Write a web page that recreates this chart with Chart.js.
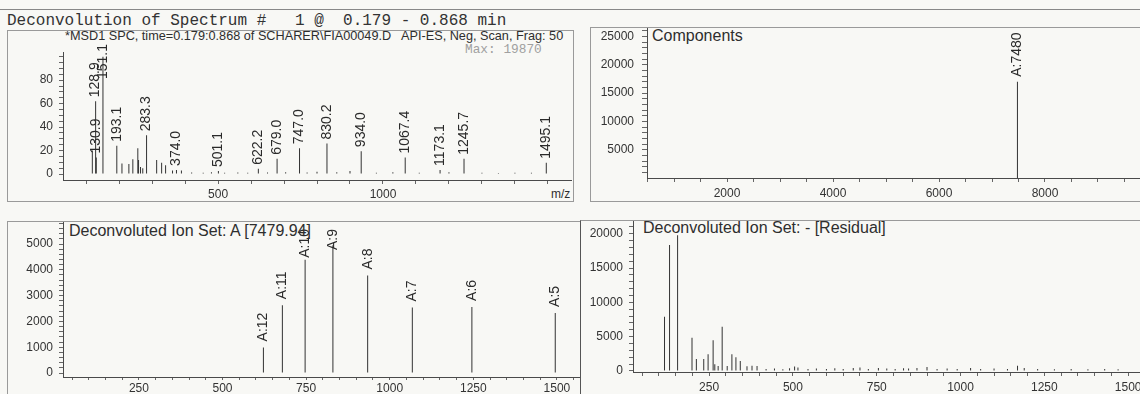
<!DOCTYPE html>
<html>
<head>
<meta charset="utf-8">
<title>Deconvolution of Spectrum</title>
<script src="https://cdn.jsdelivr.net/npm/chart.js@4.4.1/dist/chart.umd.min.js"></script>
<style>
html, body { margin: 0; padding: 0; }
body { width: 1140px; height: 394px; position: relative; overflow: hidden; background: #f8f8f5;
       font-family: "Liberation Sans", Arial, sans-serif; color: #2e2e2e; }
.box { position: absolute; border: 1px solid #9a9a9a; box-sizing: border-box; }
.txt { position: absolute; white-space: pre; }
.mono { font-family: "Liberation Mono", "Courier New", monospace; }
canvas { position: absolute; }
</style>
</head>
<body>
<div class="box" style="left:0;top:9px;width:1140px;height:1px;border-width:1px 0 0 0;border-color:#888"></div>
<div class="txt mono" style="left:7px;top:13px;font-size:16px;line-height:16px;color:#333">Deconvolution of Spectrum #   1 @  0.179 - 0.868 min</div>

<div class="box" style="left:7px;top:30px;width:567px;height:172px"></div>
<div class="box" style="left:590px;top:27px;width:600px;height:175px"></div>
<div class="box" style="left:7px;top:221px;width:574px;height:200px"></div>
<div class="box" style="left:580px;top:220px;width:600px;height:200px;border-left-color:#555"></div>

<div class="txt" style="left:65px;top:30px;font-size:12.7px;line-height:13px">*MSD1 SPC, time=0.179:0.868 of SCHARER\FIA00049.D   API-ES, Neg, Scan, Frag: 50</div>
<div class="txt mono" style="left:465px;top:44px;font-size:12.8px;line-height:12.8px;color:#a0a0a0">Max: 19870</div>
<div class="txt" style="left:551px;top:188px;font-size:12px;line-height:12px">m/z</div>
<div class="txt" style="left:652px;top:28px;font-size:16px;line-height:16px">Components</div>
<div class="txt" style="left:69px;top:223px;font-size:16px;line-height:16px">Deconvoluted Ion Set: A [7479.94]</div>
<div class="txt" style="left:643px;top:220px;font-size:16px;line-height:16px">Deconvoluted Ion Set: - [Residual]</div>

<script>
// top left: spectrum, % of max abundance
const tlMz = [118.9, 128.9, 130.9, 151.1, 193.1, 208.7, 229.7, 241.7, 256.8, 259.0,
              265.0, 271.8, 283.3, 313.9, 329.0, 341.0, 362.0, 374.0, 389.0, 420.0,
              455.0, 480.0, 501.1, 520.0, 560.0, 590.0, 622.2, 650.0, 679.0, 705.0,
              747.0, 770.0, 800.0, 830.2, 860.0, 900.0, 934.0, 980.0, 1030.0, 1067.4,
              1110.0, 1173.1, 1200.0, 1245.7, 1300.0, 1350.0, 1400.0, 1450.0, 1495.1];
const tlAbund = [20, 62, 14, 100, 24, 9, 8.5, 12.5, 22, 12,
                 6, 5, 33, 12, 9.5, 7.5, 3, 3.5, 3, 1.2,
                 1, 1.5, 2.5, 1, 1.2, 1, 4.5, 1.2, 13, 1.5,
                 22, 1.2, 2, 26, 1.5, 2.5, 19.5, 1, 1.5, 14,
                 1, 3.5, 1.5, 13, 1, 0.8, 1, 1, 9.5];
const tlLabels = ['', '128.9', '130.9', '151.1', '193.1', '', '', '', '', '',
                  '', '', '283.3', '', '', '', '', '374.0', '', '',
                  '', '', '501.1', '', '', '', '622.2', '', '679.0', '',
                  '747.0', '', '', '830.2', '', '', '934.0', '', '', '1067.4',
                  '', '1173.1', '', '1245.7', '', '', '', '', '1495.1'];
const tlXLabels = [500, 1000];
const tlYLabels = [0, 20, 40, 60, 80];

// top right: components
const trMass = [7480];
const trInt = [17000];
const trLabels = ['A:7480'];
const trXLabels = [2000, 4000, 6000, 8000];
const trYLabels = [5000, 10000, 15000, 20000, 25000];

// bottom left: ion set A
const blMz = [622.3, 679.0, 747.0, 830.1, 934.0, 1067.6, 1245.7, 1495.0];
const blInt = [990, 2630, 4390, 4950, 3780, 2540, 2560, 2330];
const blLabels = ['A:12', 'A:11', 'A:10', 'A:9', 'A:8', 'A:7', 'A:6', 'A:5'];
const blXLabels = [250, 500, 750, 1000, 1250, 1500];
const blYLabels = [0, 1000, 2000, 3000, 4000, 5000];

// bottom right: residual
const brMz = [117, 132, 156, 199, 212, 234, 247, 262, 267, 277,
              289, 304, 318, 330, 343, 363, 378, 393, 420, 445,
              470, 490, 505, 515, 545, 570, 600, 625, 650, 680,
              700, 725, 755, 780, 805, 830, 845, 870, 900, 930,
              960, 990, 1030, 1060, 1100, 1140, 1170, 1190, 1230, 1280,
              1330, 1380, 1430, 1470];
const brInt = [7900, 18350, 19800, 4850, 1750, 1750, 2430, 4500, 970, 730,
               6450, 730, 2430, 2000, 1450, 700, 780, 730, 300, 350,
               250, 400, 650, 500, 300, 350, 300, 400, 300, 450,
               500, 300, 450, 350, 300, 400, 350, 450, 600, 300,
               350, 300, 450, 300, 350, 300, 750, 450, 300, 250,
               300, 250, 300, 250];
const brXLabels = [250, 500, 750, 1000, 1250, 1500];
const brYLabels = [0, 5000, 10000, 15000, 20000];

Chart.defaults.font.family = '"Liberation Sans", Arial, sans-serif';
Chart.defaults.font.size = 12;
Chart.defaults.color = '#333';

// rotated peak labels above each stick
const stickLabels = {
  id: 'stickLabels',
  afterDatasetsDraw(chart, args, opts) {
    const ctx = chart.ctx;
    const meta = chart.getDatasetMeta(0);
    ctx.save();
    ctx.font = '14px "Liberation Sans", Arial, sans-serif';
    ctx.fillStyle = '#2a2a2a';
    ctx.textAlign = 'left';
    ctx.textBaseline = 'middle';
    opts.labels.forEach((txt, i) => {
      if (!txt) return;
      const el = meta.data[i];
      const w = ctx.measureText(txt).width;
      let bottom = el.y - opts.gap;
      if (bottom - w < opts.minTop) bottom = opts.minTop + w;
      ctx.save();
      ctx.translate(el.x, bottom);
      ctx.rotate(-Math.PI / 2);
      ctx.fillText(txt, 0, 0);
      ctx.restore();
    });
    ctx.restore();
  }
};

function steps(from, to, step) {
  const out = [];
  for (let v = from; v <= to; v += step) out.push(v);
  return out;
}

function axis(range, ticks, labels, tickLen, pad, fit) {
  return {
    type: 'linear', min: range[0], max: range[1], offset: false,
    afterBuildTicks: s => { s.ticks = ticks.map(v => ({ value: v })); },
    afterFit: fit,
    grid: { offset: false, drawOnChartArea: false, tickLength: tickLen, tickColor: '#666', tickWidth: 1 },
    border: { color: '#4a4a4a', width: 1 },
    ticks: {
      autoSkip: false, maxRotation: 0, minRotation: 0, padding: pad,
      callback: v => labels.includes(v) ? String(v) : ''
    }
  };
}

function spectrum(p) {
  const cv = document.createElement('canvas');
  const [cx, cy, cw, ch] = p.canvas;
  cv.width = cw; cv.height = ch;
  cv.style.left = cx + 'px'; cv.style.top = cy + 'px';
  document.body.appendChild(cv);
  const [L, T, R, B] = p.area;
  return new Chart(cv, {
    type: 'bar',
    data: {
      datasets: [{
        data: p.x.map((v, i) => ({ x: v, y: p.y[i] })),
        backgroundColor: '#333', barThickness: 1, grouped: false, inflateAmount: 0
      }]
    },
    options: {
      responsive: false, animation: false, events: [],
      layout: { padding: { top: T - cy, right: cx + cw - R, bottom: 0, left: 0 } },
      plugins: {
        legend: { display: false }, tooltip: { enabled: false },
        stickLabels: { labels: p.labels || [], gap: p.gap, minTop: p.minTop - cy }
      },
      scales: {
        x: axis(p.xRange, p.xTicks, p.xLabels, p.xTick, p.xPad, s => { s.height = cy + ch - B; }),
        y: axis(p.yRange, p.yTicks, p.yLabels, p.yTick, p.yPad, s => { s.width = L - cx; })
      }
    },
    plugins: [stickLabels]
  });
}

spectrum({
  canvas: [8, 10, 566, 200], area: [63, 52, 571, 180],
  x: tlMz, y: tlAbund, labels: tlLabels, gap: 4, minTop: 44,
  xRange: [30, 1570], xTicks: steps(100, 1500, 100), xLabels: tlXLabels, xTick: 4, xPad: 3,
  yRange: [-5.1, 104], yTicks: steps(0, 100, 5), yLabels: tlYLabels, yTick: 4, yPad: 6
});

spectrum({
  canvas: [591, 5, 569, 215], area: [647, 28, 1160, 178],
  x: trMass, y: trInt, labels: trLabels, gap: 5, minTop: 28,
  xRange: [490, 10170], xTicks: steps(500, 10000, 500), xLabels: trXLabels, xTick: 4, xPad: 4,
  yRange: [0, 26500], yTicks: steps(1000, 26000, 1000), yLabels: trYLabels, yTick: 5, yPad: 8
});

spectrum({
  canvas: [8, 200, 572, 194], area: [63, 222, 580, 377],
  x: blMz, y: blInt, labels: blLabels, gap: 6, minTop: 229,
  xRange: [23, 1569], xTicks: steps(50, 1550, 50), xLabels: blXLabels, xTick: 3, xPad: 1,
  yRange: [-155, 5853], yTicks: steps(0, 5800, 200), yLabels: blYLabels, yTick: 4, yPad: 6
});

spectrum({
  canvas: [581, 200, 579, 194], area: [633, 221, 1160, 372],
  x: brMz, y: brInt, labels: [], gap: 5, minTop: 221,
  xRange: [23, 1595], xTicks: steps(50, 1550, 50), xLabels: brXLabels, xTick: 4, xPad: 4,
  yRange: [-146, 21866], yTicks: steps(0, 21000, 1000), yLabels: brYLabels, yTick: 4, yPad: 6
});
</script>
</body>
</html>
